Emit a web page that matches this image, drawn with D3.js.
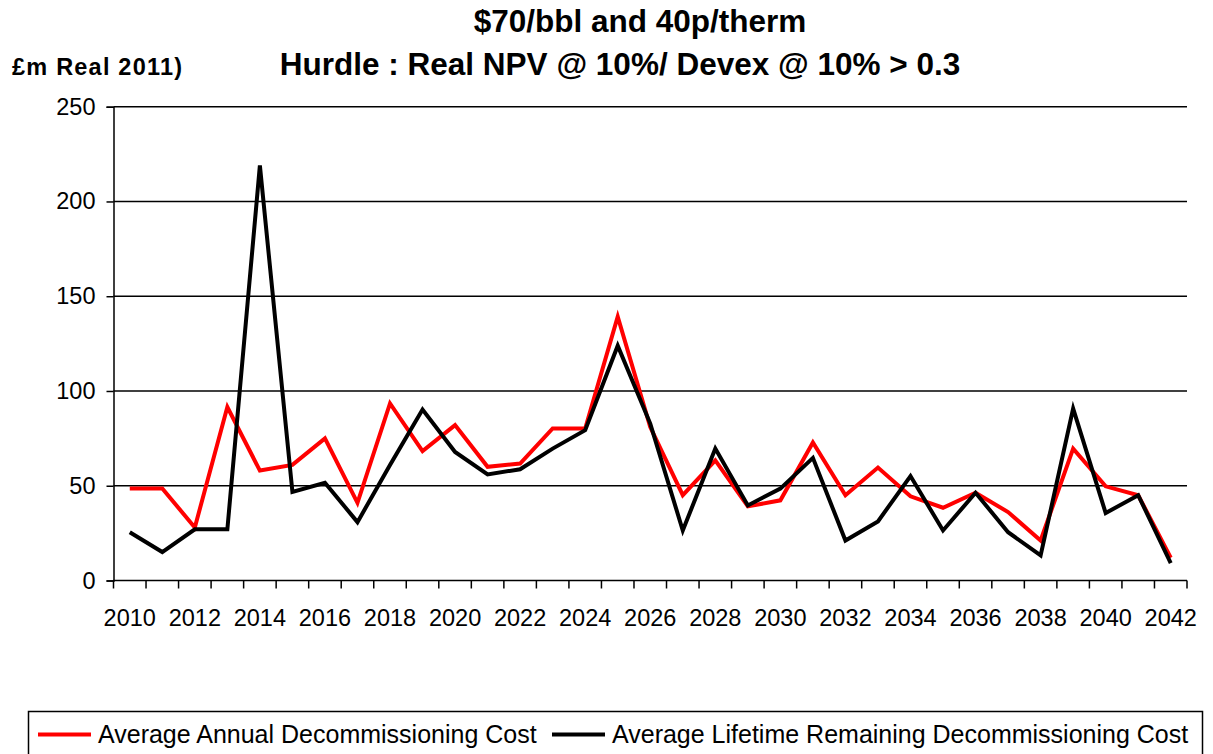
<!DOCTYPE html>
<html>
  <head>
    <meta charset="utf-8">
    <script src="https://unpkg.com/d3@7/dist/d3.min.js"></script>
    <style>
      body {
        margin: 0;
        background: #ffffff;
      }

      svg text {
        font-family: "Liberation Sans", Arial, sans-serif;
        fill: #000000;
      }

      .title {
        font-weight: bold;
        font-size: 31.5px;
        text-anchor: middle;
      }

      .grid line {
        stroke: #000000;
        stroke-width: 1.5px;
      }

      .series {
        fill: none;
        stroke-width: 4px;
        stroke-linejoin: miter;
      }
    </style>
  </head>
  <body>
    <script>
      const years = ['2010', '2011', '2012', '2013', '2014', '2015', '2016', '2017', '2018',
        '2019', '2020', '2021', '2022', '2023', '2024', '2025', '2026', '2027', '2028',
        '2029', '2030', '2031', '2032', '2033', '2034', '2035', '2036', '2037', '2038',
        '2039', '2040', '2041', '2042'];

      const annualCost = [48.5, 48.5, 28, 91.5, 58, 61, 75, 41, 93.4, 68.3,
        82, 60, 61.7, 80.2, 80.2, 139.2, 81, 45, 63.4, 39.1,
        42.3, 72.8, 45, 59.6, 44.4, 38.4, 46.3, 36.1, 21.1, 69.6,
        49.7, 45, 12];

      const lifetimeCost = [25.5, 15, 27, 27, 219, 46.7, 51.6, 30.8, 61, 90.2,
        67.8, 56, 58.7, 69.6, 79.3, 123.9, 82.8, 26.4, 69.6, 39.6,
        48.5, 64.7, 21.1, 31.2, 55.1, 26.4, 46.3, 25.5, 13.2, 90.7,
        35.6, 45, 9.2];

      const yTicks = [0, 50, 100, 150, 200, 250];
      const xLabels = years.filter((d, i) => i % 2 === 0);

      const seriesNames = ['Average Annual Decommissioning Cost',
        'Average Lifetime Remaining Decommissioning Cost'];
      const seriesColors = ['#ff0000', '#000000'];

      const width = 1213;
      const height = 754;
      const plotLeft = 113.5;
      const plotRight = 1187;
      const plotTop = 106.7;
      const plotBottom = 580.5;

      const svg = d3.select('body')
        .append('svg')
        .attr('width', width)
        .attr('height', height);

      const x = d3.scaleBand()
        .domain(years)
        .range([plotLeft, plotRight])
        .padding(0);

      const y = d3.scaleLinear()
        .domain([0, 250])
        .range([plotBottom, plotTop]);

      // gridlines
      svg.append('g')
        .classed('grid', true)
        .selectAll('line')
        .data(yTicks.filter(d => d > 0))
        .enter()
        .append('line')
        .attr('x1', plotLeft)
        .attr('x2', plotRight)
        .attr('y1', d => y(d))
        .attr('y2', d => y(d));

      // y axis
      const yAxis = svg.append('g')
        .attr('transform', `translate(${plotLeft},0)`)
        .call(d3.axisLeft(y).tickValues(yTicks).tickSize(7).tickPadding(11));
      yAxis.select('.domain').attr('stroke', '#000').attr('stroke-width', 1.5);
      yAxis.selectAll('.tick line').attr('stroke', '#000').attr('stroke-width', 1.5);
      yAxis.selectAll('.tick text')
        .style('font-size', '23.5px')
        .attr('fill', '#000');

      // x axis line and boundary ticks
      svg.append('line')
        .attr('x1', plotLeft)
        .attr('x2', plotRight)
        .attr('y1', plotBottom)
        .attr('y2', plotBottom)
        .attr('stroke', '#000')
        .attr('stroke-width', 1.5);

      const boundaries = years.map(d => x(d)).concat([x(years[years.length - 1]) + x.bandwidth()]);
      svg.selectAll('.xtick')
        .data(boundaries)
        .enter()
        .append('line')
        .classed('xtick', true)
        .attr('x1', d => d)
        .attr('x2', d => d)
        .attr('y1', plotBottom)
        .attr('y2', plotBottom + 8)
        .attr('stroke', '#000')
        .attr('stroke-width', 1.5);

      svg.selectAll('.xlabel')
        .data(xLabels)
        .enter()
        .append('text')
        .classed('xlabel', true)
        .attr('x', d => x(d) + x.bandwidth() / 2)
        .attr('y', 626)
        .attr('text-anchor', 'middle')
        .style('font-size', '23.5px')
        .text(d => d);

      // lines
      const line = d3.line()
        .x((d, i) => x(years[i]) + x.bandwidth() / 2)
        .y(d => y(d));

      [annualCost, lifetimeCost].forEach((values, i) => {
        svg.append('path')
          .datum(values)
          .classed('series', true)
          .attr('stroke', seriesColors[i])
          .attr('d', line);
      });

      // titles
      svg.append('text')
        .classed('title', true)
        .attr('x', 640)
        .attr('y', 32)
        .text('$70/bbl and 40p/therm');

      svg.append('text')
        .classed('title', true)
        .attr('x', 620)
        .attr('y', 75)
        .text('Hurdle : Real NPV @ 10%/ Devex @ 10% > 0.3');

      svg.append('text')
        .attr('x', 12)
        .attr('y', 75)
        .style('font-weight', 'bold')
        .style('font-size', '23.5px')
        .attr('textLength', 170)
        .text('£m Real 2011)');

      // legend
      svg.append('rect')
        .attr('x', 28.5)
        .attr('y', 711.5)
        .attr('width', 1174)
        .attr('height', 60)
        .attr('fill', '#fff')
        .attr('stroke', '#000')
        .attr('stroke-width', 1.5);

      const legendX = [38, 552];
      seriesNames.forEach((name, i) => {
        svg.append('line')
          .attr('x1', legendX[i])
          .attr('x2', legendX[i] + 53)
          .attr('y1', 734.5)
          .attr('y2', 734.5)
          .attr('stroke', seriesColors[i])
          .attr('stroke-width', 4);
        svg.append('text')
          .attr('x', legendX[i] + 60)
          .attr('y', 743)
          .style('font-size', '25px')
          .text(name);
      });
    </script>
  </body>
</html>
